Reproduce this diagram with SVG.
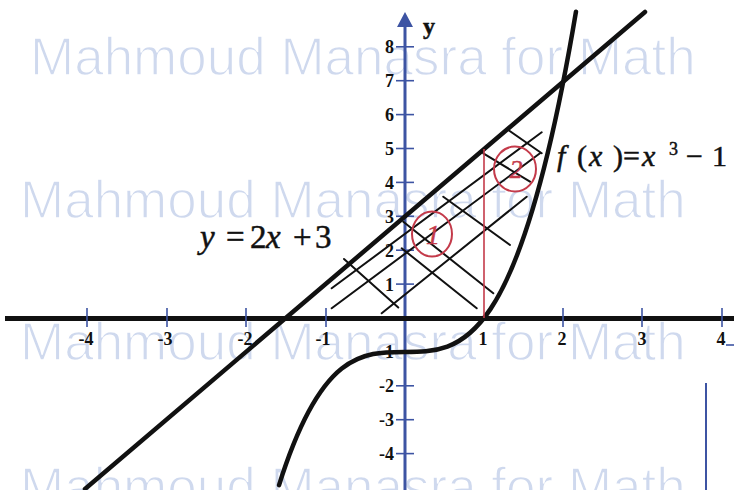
<svg xmlns="http://www.w3.org/2000/svg" width="734" height="490" viewBox="0 0 734 490">
<style>
.wm{font-family:"Liberation Sans",Arial,sans-serif;font-size:53px;fill:#cfd9ee;stroke:#fff;stroke-width:1.4}
.tk{stroke:#3d54a3;stroke-width:1.6}
.lbl{font-family:"Liberation Serif","Times New Roman",serif;font-size:18px;font-weight:bold;fill:#111}
.xl{text-anchor:middle}
.yl{text-anchor:end}
.h{stroke:#111;stroke-width:2;stroke-linecap:round}
.thick{stroke:#111;stroke-width:4.5;fill:none;stroke-linecap:round}
.red{stroke:#c43a4a;fill:none;stroke-width:2}
.math{font-family:"Liberation Serif","Times New Roman",serif;fill:#111;stroke:#111;stroke-width:0.5}
.it{font-style:italic}
</style>
<rect width="734" height="490" fill="#fff"/>
<g id="watermark">
<text class="wm" x="30" y="75">Mahmoud Manasra for Math</text>
<text class="wm" x="20" y="218">Mahmoud Manasra for Math</text>
<text class="wm" x="20" y="360">Mahmoud Manasra for Math</text>
<text class="wm" x="20" y="505">Mahmoud Manasra for Math</text>
</g>
<g id="y-axis">
<line x1="405" y1="22" x2="405" y2="490" stroke="#3d54a3" stroke-width="3"/>
<polygon points="405,12 397,27 413,27" fill="#3d54a3"/>
<g class="tk">
<line x1="396" y1="46.8" x2="414" y2="46.8"/>
<line x1="396" y1="80.7" x2="414" y2="80.7"/>
<line x1="396" y1="114.6" x2="414" y2="114.6"/>
<line x1="396" y1="148.5" x2="414" y2="148.5"/>
<line x1="396" y1="182.4" x2="414" y2="182.4"/>
<line x1="396" y1="216.3" x2="414" y2="216.3"/>
<line x1="396" y1="250.2" x2="414" y2="250.2"/>
<line x1="396" y1="284.1" x2="414" y2="284.1"/>
<line x1="396" y1="351.9" x2="414" y2="351.9"/>
<line x1="396" y1="385.8" x2="414" y2="385.8"/>
<line x1="396" y1="419.7" x2="414" y2="419.7"/>
<line x1="396" y1="453.6" x2="414" y2="453.6"/>
</g>
<g class="lbl yl">
<text x="394" y="53">8</text>
<text x="394" y="87">7</text>
<text x="394" y="121">6</text>
<text x="394" y="155">5</text>
<text x="394" y="189">4</text>
<text x="394" y="223">3</text>
<text x="394" y="257">2</text>
<text x="394" y="291">1</text>
<text x="394" y="358">-1</text>
<text x="394" y="392">-2</text>
<text x="394" y="426">-3</text>
<text x="394" y="460">-4</text>
</g>
<text x="423" y="34" class="math" font-size="24" font-weight="bold">y</text>
</g>
<g id="x-axis">
<line x1="5" y1="318.5" x2="734" y2="318.5" stroke="#111" stroke-width="5"/>
<g class="tk">
<line x1="87" y1="308" x2="87" y2="327"/>
<line x1="167" y1="308" x2="167" y2="327"/>
<line x1="246" y1="308" x2="246" y2="327"/>
<line x1="326" y1="308" x2="326" y2="327"/>
<line x1="563" y1="308" x2="563" y2="327"/>
<line x1="642" y1="308" x2="642" y2="327"/>
<line x1="722" y1="308" x2="722" y2="327"/>
</g>
<g class="lbl xl">
<text x="86" y="345">-4</text>
<text x="165" y="345">-3</text>
<text x="245" y="345">-2</text>
<text x="323" y="345">-1</text>
<text x="483" y="345">1</text>
<text x="562" y="345">2</text>
<text x="642" y="345">3</text>
<text x="721" y="345">4</text>
</g>
<line x1="726" y1="345" x2="734" y2="345" class="tk"/>
<line x1="706" y1="383" x2="706" y2="490" stroke="#3d54a3" stroke-width="2"/>
</g>
<g id="hatching">
<line class="h" x1="331.7" y1="288.3" x2="541.7" y2="132.3"/>
<line class="h" x1="331.7" y1="308.3" x2="540" y2="153.3"/>
<line class="h" x1="381.7" y1="313.3" x2="526.7" y2="196.7"/>
<line class="h" x1="344" y1="259" x2="398.3" y2="307.5"/>
<line class="h" x1="401.7" y1="248.3" x2="476.7" y2="308.3"/>
<line class="h" x1="403.3" y1="221.7" x2="493.3" y2="293.3"/>
<line class="h" x1="443.3" y1="196.7" x2="510" y2="245"/>
<line class="h" x1="483.3" y1="153.3" x2="530" y2="181.7"/>
<line class="h" x1="508.3" y1="130" x2="541.7" y2="153.3"/>
</g>
<g id="line-y-2x-3">
<line class="thick" x1="85" y1="489" x2="645" y2="12"/>
</g>
<g id="curve-f">
<path class="thick" d="M279.05,485.09 C378.03,169.82 477,600.79 575.98,11.68"/>
</g>
<g id="red-marks">
<line x1="484" y1="318" x2="484" y2="149" stroke="#c43a4a" stroke-width="1.6"/>
<ellipse class="red" cx="432" cy="234" rx="20" ry="22.5"/>
<ellipse class="red" cx="515" cy="169" rx="21" ry="22.5"/>
<text x="433" y="244" class="math it" font-size="28" text-anchor="middle" style="fill:#c43a4a;stroke:#c43a4a">1</text>
<text x="516" y="178" class="math it" font-size="26" text-anchor="middle" style="fill:#c43a4a;stroke:#c43a4a">2</text>
</g>
<g id="label-line">
<text class="math" font-family="'Liberation Serif', 'Times New Roman', serif" font-size="33" y="248"><tspan x="200" class="it">y</tspan><tspan x="226">=</tspan><tspan x="250">2</tspan><tspan x="266" class="it">x</tspan><tspan x="293">+</tspan><tspan x="315">3</tspan></text>
</g>
<g id="label-curve">
<text class="math" font-family="'Liberation Serif', 'Times New Roman', serif" font-size="30" y="166"><tspan x="557" class="it">f</tspan><tspan x="577">(</tspan><tspan x="589" class="it">x</tspan><tspan x="613">)</tspan><tspan x="623">=</tspan><tspan x="642" class="it">x</tspan><tspan x="669" y="155" font-size="18">3</tspan><tspan x="686" y="166">−</tspan><tspan x="712">1</tspan></text>
</g>
</svg>
